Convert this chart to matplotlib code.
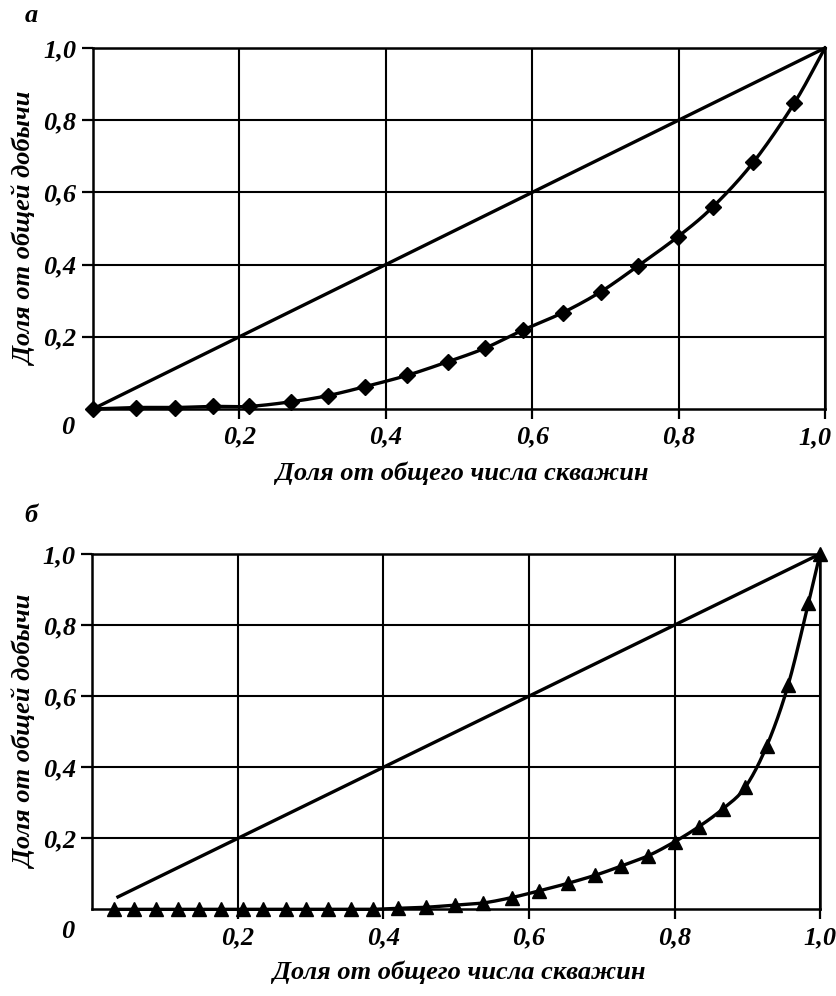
import numpy as np
import matplotlib
matplotlib.use("Agg")
import matplotlib.pyplot as plt

# ---- data ----
top_x = [0.0, 0.059, 0.112, 0.164, 0.213, 0.271, 0.321, 0.372, 0.429, 0.485,
         0.535, 0.588, 0.642, 0.694, 0.745, 0.799, 0.847, 0.902, 0.958, 1.0]
top_y = [0.0, 0.004, 0.004, 0.007, 0.007, 0.020, 0.037, 0.062, 0.093, 0.131,
         0.168, 0.219, 0.267, 0.325, 0.397, 0.477, 0.560, 0.683, 0.847, 1.0]

bot_x = [0.029, 0.057, 0.087, 0.117, 0.146, 0.176, 0.207, 0.235, 0.266, 0.294,
         0.324, 0.355, 0.385, 0.420, 0.459, 0.498, 0.537, 0.576, 0.614, 0.653,
         0.691, 0.727, 0.764, 0.800, 0.833, 0.866, 0.897, 0.927, 0.956, 0.984, 1.0]
bot_y = [0.0, 0.0, 0.0, 0.0, 0.0, 0.0, 0.0, 0.0, 0.0, 0.0,
         0.0, 0.0, 0.0, 0.003, 0.006, 0.012, 0.018, 0.033, 0.052, 0.073,
         0.096, 0.122, 0.151, 0.190, 0.232, 0.282, 0.343, 0.461, 0.630, 0.861, 1.0]

diag_top = ([0.0, 1.0], [0.0, 1.0])
diag_bot = ([0.035, 1.0], [0.035, 1.0])

tick_vals = [0.2, 0.4, 0.6, 0.8, 1.0]
tick_labels = ["0,2", "0,4", "0,6", "0,8", "1,0"]
xlabel = "Доля от общего числа скважин"
ylabel = "Доля от общей добычи"
panel_labels = ["а", "б"]

FONT = dict(family="Liberation Serif", weight="bold", style="italic")
FS = 19


def smooth(x, y, n=12):
    """Catmull-Rom rendering of the polyline through the points."""
    x = np.asarray(x, float)
    y = np.asarray(y, float)
    P = np.column_stack([x, y])
    P = np.vstack([P[0] - (P[1] - P[0]), P, P[-1] + (P[-1] - P[-2])])
    out = []
    t = np.linspace(0, 1, n, endpoint=False)
    for i in range(1, len(P) - 2):
        p0, p1, p2, p3 = P[i - 1], P[i], P[i + 1], P[i + 2]
        tt = t[:, None]
        seg = 0.5 * ((2 * p1) + (-p0 + p2) * tt + (2 * p0 - 5 * p1 + 4 * p2 - p3) * tt ** 2
                     + (-p0 + 3 * p1 - 3 * p2 + p3) * tt ** 3)
        out.append(seg)
    out.append(P[-2][None, :])
    S = np.vstack(out)
    return S[:, 0], S[:, 1]


fig = plt.figure(figsize=(8.36, 9.96), dpi=100)
ax1 = fig.add_axes([0.1112, 0.5894, 0.8756, 0.3624])
ax2 = fig.add_axes([0.1106, 0.0870, 0.8703, 0.3568])


def style(ax, zero_y, last_xlabel_manual=False):
    ax.set_xlim(0, 1)
    ax.set_ylim(0, 1)
    ax.set_xticks(tick_vals)
    ax.set_yticks(tick_vals)
    xl = list(tick_labels)
    if last_xlabel_manual:
        xl[-1] = ""
    ax.set_xticklabels(xl, fontdict=dict(size=FS, **FONT))
    ax.set_yticklabels(tick_labels, fontdict=dict(size=FS, **FONT))
    ax.tick_params(axis="x", direction="out", length=7, width=1.6, pad=5, color="black")
    ax.tick_params(axis="y", direction="out", length=8, width=1.6, pad=4, color="black")
    ax.grid(True, color="black", linewidth=1.5)
    for s in ax.spines.values():
        s.set_linewidth(1.8)
        s.set_color("black")
    ax.set_axisbelow(True)
    ax.set_xlabel(xlabel, fontsize=FS, va="center", **FONT)
    ax.xaxis.set_label_coords(0.504, -0.177)
    ax.set_ylabel(ylabel, fontsize=FS, va="center", **FONT)
    ax.yaxis.set_label_coords(-0.093, 0.5)
    ax.text(-0.034, zero_y, "0", transform=ax.transAxes, ha="center", va="center",
            fontsize=FS, **FONT)
    if last_xlabel_manual:
        ax.text(0.986, -0.08, tick_labels[-1], transform=ax.transAxes, ha="center",
                va="center", fontsize=FS, **FONT)


style(ax1, -0.05, last_xlabel_manual=True)
style(ax2, -0.063)

# top panel
ax1.plot(*diag_top, color="black", lw=2.4, clip_on=False, zorder=3)
sx, sy = smooth(top_x, top_y)
ax1.plot(sx, sy, color="black", lw=2.4, clip_on=False, zorder=3)
ax1.plot(top_x[:-1], top_y[:-1], ls="none", marker="D", ms=8.5, color="black",
         clip_on=False, zorder=4)

# bottom panel
ax2.plot(*diag_bot, color="black", lw=2.4, clip_on=False, zorder=3)
sx, sy = smooth(bot_x, bot_y)
ax2.plot(sx, sy, color="black", lw=2.4, clip_on=False, zorder=3)
ax2.plot(bot_x, bot_y, ls="none", marker="^", ms=9.5, color="black",
         clip_on=False, zorder=4)

fig.text(31 / 836, 1 - 16 / 996, panel_labels[0], ha="center", va="center", fontsize=FS, **FONT)
fig.text(31 / 836, 1 - 516 / 996, panel_labels[1], ha="center", va="center", fontsize=FS, **FONT)

fig.savefig("out.png", dpi=100, facecolor="white")
